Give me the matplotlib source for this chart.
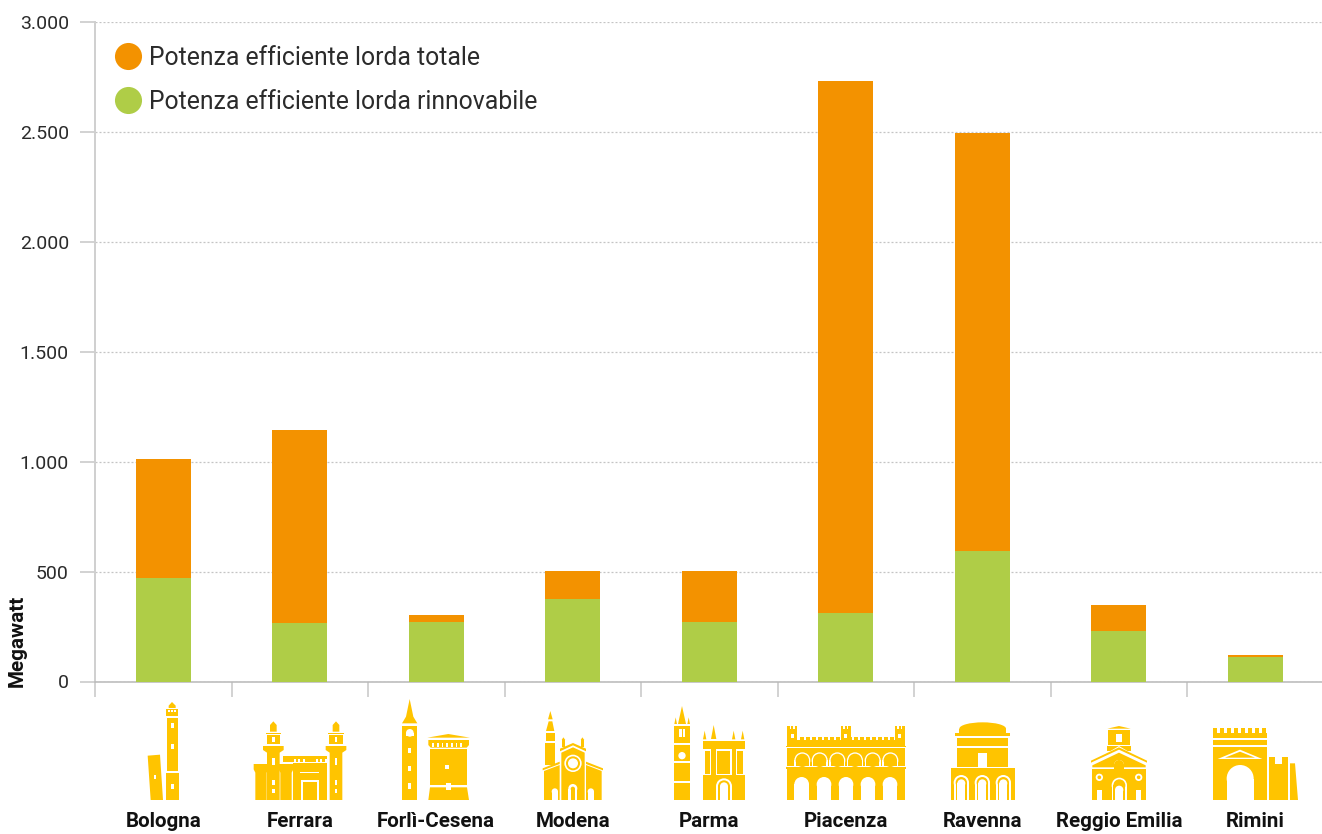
import matplotlib
matplotlib.use("Agg")
import matplotlib.pyplot as plt
from matplotlib.lines import Line2D
from matplotlib.patches import Polygon, Rectangle, Ellipse

# ---- data
province = ["Bologna", "Ferrara", "Forlì-Cesena", "Modena", "Parma",
            "Piacenza", "Ravenna", "Reggio Emilia", "Rimini"]
totale = [1012, 1144, 302, 503, 503, 2732, 2495, 348, 120]
rinnovabile = [471, 266, 271, 375, 271, 312, 594, 230, 111]
yticks = [0, 500, 1000, 1500, 2000, 2500, 3000]
yticklabels = ["0", "500", "1.000", "1.500", "2.000", "2.500", "3.000"]
legend_labels = ["Potenza efficiente lorda totale", "Potenza efficiente lorda rinnovabile"]
ylabel = "Megawatt"

ORANGE = "#F39200"
GREEN = "#AFCD47"
GOLD = "#FFC400"
INK = "#111111"
SOFT = "#2B2B2B"
GREY = "#C6C6C6"

plt.rcParams["font.family"] = ["Roboto", "DejaVu Sans"]
W, H = 1322, 834
fig = plt.figure(figsize=(W / 100, H / 100), dpi=100)
ax = fig.add_axes([95 / W, 1 - 681.5 / H, (1322 - 95) / W, (681.5 - 22) / H])

pos = [i + 0.5 for i in range(len(province))]
ax.bar(pos, totale, width=0.403, color=ORANGE, zorder=3)
ax.bar(pos, rinnovabile, width=0.403, color=GREEN, zorder=4)
ax.set_xlim(0, (1322 - 95) / 136.5)
ax.set_ylim(0, 3000)

ax.set_yticks(yticks, yticklabels, fontsize=14.0, color=SOFT, fontweight="normal")
ax.tick_params(axis="y", length=10.8, width=1.1, color=GREY, pad=8)
ax.grid(axis="y", color="#C4C4C4", linestyle=(0, (1.6, 1.6)), linewidth=0.9, zorder=0)
ax.set_axisbelow(True)
ax.set_xticks(range(0, 9))
ax.set_xticklabels([])
ax.tick_params(axis="x", which="major", length=10.8, width=1.1, color=GREY)
ax.set_xticks(pos, minor=True)
ax.set_xticklabels(province, minor=True, fontsize=14.8, fontweight="bold", color=INK)
ax.tick_params(axis="x", which="minor", length=0, pad=94)

for s in ("top", "right"):
    ax.spines[s].set_visible(False)
ax.spines["left"].set_color("#CFCFCF")
ax.spines["left"].set_linewidth(1.4)
ax.spines["bottom"].set_color("#B8B8B8")
ax.spines["bottom"].set_linewidth(1.1)

fig.text(17 / W, 1 - 641 / H, ylabel, rotation=90, ha="center", va="center",
         fontsize=14.9, fontweight="bold", color=INK)

handles = [Line2D([], [], linestyle="none", marker="o", markersize=19.5, color=ORANGE, markeredgewidth=0),
           Line2D([], [], linestyle="none", marker="o", markersize=19.5, color=GREEN, markeredgewidth=0)]
leg = ax.legend(handles, legend_labels, loc="upper left", bbox_to_anchor=(-0.0034, 0.997), frameon=False,
                prop={"size": 17.85, "weight": "normal"}, labelcolor=SOFT, handletextpad=0.216,
                labelspacing=0.80, borderaxespad=0, borderpad=0.88, handlelength=1.237)
leg.set_zorder(6)

# ---- decorative monument icons, in reference pixels (zoomed 3x, offset ox/oy)
ov = fig.add_axes([0, 0, 1, 1], zorder=5)
ov.set_xlim(0, W)
ov.set_ylim(H, 0)
ov.axis("off")
ox, oy = 0, 560


def P(c, *pts):
    ov.add_patch(Polygon([(ox + x / 3, oy + y / 3) for x, y in pts], closed=True, fc=c, ec="none"))


def R(c, x0, y0, x1, y1):
    ov.add_patch(Rectangle((ox + x0 / 3, oy + y0 / 3), (x1 - x0) / 3, (y1 - y0) / 3, fc=c, ec="none"))


def E(c, cx, cy, w, h):
    ov.add_patch(Ellipse((ox + cx / 3, oy + cy / 3), w / 3, h / 3, fc=c, ec="none"))


def arch(c, x0, top, x1, bottom):
    w = x1 - x0
    E(c, (x0 + x1) / 2, top + w / 2, w, w)
    R(c, x0, top + w / 2, x1, bottom)


G, X = GOLD, "white"

# Bologna
P(G, (443, 587), (480, 584), (489, 720), (452, 720))
R(X, 462, 645, 469, 658)
R(G, 501, 473, 533, 633)
R(G, 498, 640, 537, 720)
R(G, 498, 448, 535, 467)
P(G, (516, 426), (527, 437), (527, 444), (506, 444), (506, 437))
for x in (505, 514, 523):
    R(X, x, 450, x + 4, 457)
for y in (490, 553, 672):
    R(X, 513, y, 521, y + 15)

# Ferrara
for cx in (820, 1008):
    P(G, (cx - 31, 558), (cx + 31, 558), (cx + 31, 570), (cx + 19, 578), (cx + 19, 720),
      (cx - 19, 720), (cx - 19, 578), (cx - 31, 570))
    R(G, cx - 20, 525, cx + 20, 553)
    R(G, cx - 23, 518, cx + 23, 522)
    P(G, (cx, 484), (cx + 10, 495), (cx + 10, 515), (cx - 10, 515), (cx - 10, 495))
    R(X, cx - 4, 530, cx + 4, 545)
    R(X, cx - 4, 595, cx + 4, 615)
    R(X, cx - 4, 660, cx + 4, 675)
    R(X, cx - 4, 687, cx + 4, 700)
for cx in (783, 858):
    P(G, (cx - 22, 612), (cx + 22, 612), (cx + 22, 628), (cx + 17, 638), (cx + 17, 720),
      (cx - 17, 720), (cx - 17, 638), (cx - 22, 628))
R(G, 848, 588, 980, 605)
for x in (882, 895, 908, 948, 961, 974):
    R(X, x, 596, x + 6, 606)
R(G, 880, 610, 980, 720)
R(X, 900, 635, 958, 640)
R(X, 902, 660, 957, 720)
R(G, 908, 666, 951, 720)

# Forlì-Cesena
P(G, (1229, 417), (1240, 470), (1252, 490), (1206, 490), (1218, 470))
R(G, 1206, 497, 1252, 720)
arch(X, 1218, 507, 1241, 527)
for y in (563, 617, 670):
    R(X, 1225, y, 1233, y + 17)
P(G, (1282, 533), (1345, 522), (1410, 533))
P(G, (1285, 540), (1407, 540), (1407, 555), (1400, 563), (1292, 563), (1285, 555))
for x in range(1297, 1395, 14):
    R(X, x, 549, x + 5, 560)
R(G, 1290, 568, 1401, 675)
P(G, (1290, 682), (1401, 682), (1407, 720), (1285, 720))
R(X, 1334, 614, 1347, 627)
R(X, 1338, 668, 1353, 690)

# Modena
ox, oy = 500, 660
P(G, (151, 153), (158, 178), (144, 178))
P(G, (146, 184), (157, 184), (163, 213), (138, 213))
R(G, 137, 218, 164, 242)
R(G, 136, 249, 166, 315)
P(G, (184, 278), (219, 262), (254, 278), (254, 420), (184, 420))
P(G, (180, 266), (219, 249), (258, 266), (258, 274), (219, 256), (180, 274))
R(G, 185, 240, 196, 260)
P(G, (190, 232), (196, 240), (185, 240))
R(G, 242, 240, 253, 260)
P(G, (247, 232), (253, 240), (242, 240))
E(X, 219, 310, 52, 52)
E(G, 219, 310, 42, 42)
E(X, 219, 310, 30, 30)
P(G, (132, 333), (179, 315), (179, 420), (132, 420))
P(G, (128, 325), (179, 305), (179, 312), (128, 331))
P(G, (258, 315), (305, 333), (305, 420), (258, 420))
P(G, (258, 305), (309, 325), (309, 331), (258, 312))
arch(X, 205, 372, 232, 420)
arch(G, 212, 380, 225, 420)
arch(X, 155, 385, 174, 420)
arch(X, 263, 385, 282, 420)

# Parma
R(G, 523, 198, 570, 420)
R(X, 523, 362, 570, 368)
R(X, 523, 250, 570, 255)
R(X, 523, 303, 570, 309)
R(X, 538, 208, 545, 230)
R(X, 548, 208, 555, 230)
E(X, 546, 287, 22, 22)
P(G, (546, 138), (558, 192), (534, 192))
P(G, (527, 172), (531, 192), (523, 192))
P(G, (566, 172), (570, 192), (562, 192))
R(G, 610, 243, 734, 420)
P(G, (641, 195), (649, 237), (633, 237))
for cx in (614, 701, 728):
    P(G, (cx, 212), (cx + 5, 238), (cx - 5, 238))
for x0, x1 in ((610, 634), (648, 695), (708, 734)):
    R(X, x0, 268, x1, 346)
    R(G, x0 + 4, 273, x1 - 4, 341)
arch(X, 648, 355, 696, 420)
arch(G, 654, 361, 690, 420)
arch(X, 660, 367, 684, 420)

# Piacenza
R(G, 860, 240, 1215, 257)
for x in range(900, 1180, 18):
    R(G, x, 231, x + 11, 242)
for x in (862, 1023, 1185):
    R(G, x, 207, x + 29, 245)
    for dx in (0, 11, 22):
        R(G, x + dx, 199, x + dx + 7, 208)
    R(X, x + 10, 222, x + 19, 234)
R(G, 858, 257, 1218, 261)
R(G, 862, 264, 1215, 318)
for cx in (907, 959, 1012, 1065, 1118, 1171):
    arch(X, cx - 24, 277, cx + 24, 319)
    arch(G, cx - 20, 281, cx + 20, 319)
R(G, 858, 321, 1218, 326)
R(G, 862, 326, 1215, 420)
for cx in (905, 972, 1038, 1104, 1170):
    arch(X, cx - 22, 351, cx + 22, 420)

# Ravenna
ox, oy = 900, 660
E(G, 248, 206, 140, 38)
R(G, 178, 206, 318, 220)
R(G, 165, 218, 330, 229)
R(G, 171, 234, 325, 258)
R(G, 171, 263, 325, 320)
R(X, 233, 278, 262, 320)
R(G, 152, 325, 344, 420)
for cx in (184, 247, 310):
    arch(X, cx - 23, 345, cx + 23, 420)
    arch(G, cx - 17, 351, cx + 17, 420)
    arch(X, cx - 12, 358, cx + 12, 420)

# Reggio Emilia
P(G, (622, 206), (657, 198), (692, 206))
R(G, 625, 211, 690, 255)
R(X, 648, 223, 667, 246)
R(G, 622, 258, 692, 272)
P(X, (565, 312), (657, 258), (749, 312))
P(G, (573, 302), (657, 262), (741, 302), (741, 308), (657, 269), (573, 308))
P(G, (577, 316), (657, 278), (737, 316), (737, 322), (577, 322))
R(G, 577, 328, 737, 420)
arch(X, 642, 300, 672, 337)
arch(G, 642, 300, 672, 337)
for cx in (598, 716):
    E(X, cx, 352, 22, 22)
    E(G, cx, 352, 11, 11)
arch(X, 635, 353, 681, 420)
arch(G, 640, 358, 676, 420)
arch(X, 645, 377, 670, 420)
R(X, 591, 390, 607, 420)
R(X, 708, 390, 724, 420)

# Rimini
R(G, 939, 220, 1102, 235)
for x in range(939, 1100, 21):
    R(G, x, 204, x + 12, 222)
R(G, 939, 240, 1102, 255)
R(G, 939, 260, 1102, 420)
P(X, (953, 297), (1020, 269), (1087, 297))
P(G, (975, 293), (1020, 275), (1065, 293))
arch(X, 980, 315, 1061, 420)
P(G, (1107, 292), (1125, 292), (1125, 312), (1145, 312), (1145, 292), (1165, 292), (1165, 420), (1107, 420))
P(G, (1170, 310), (1185, 310), (1194, 420), (1170, 420))

fig.savefig("out.png", dpi=100)
